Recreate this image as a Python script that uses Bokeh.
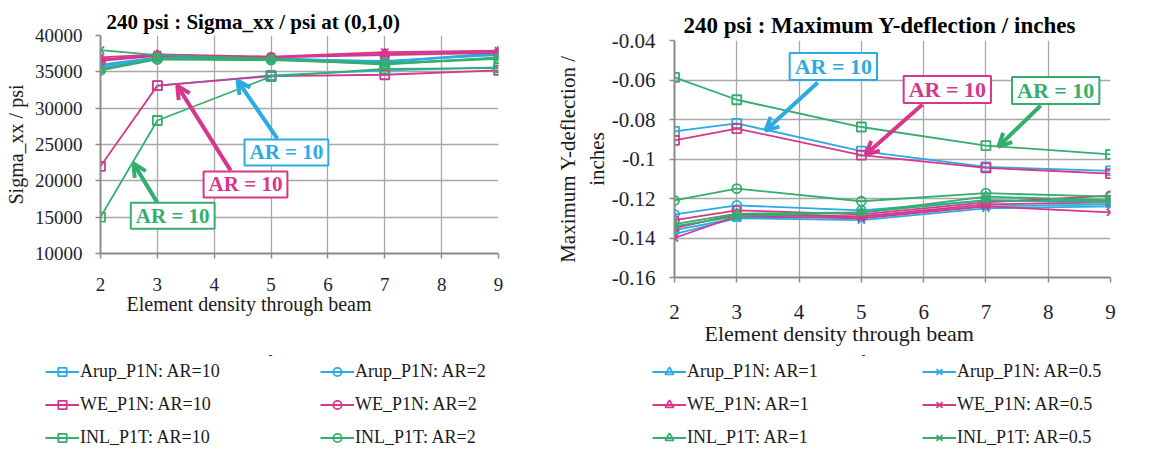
import math
from bokeh.plotting import figure
from bokeh.models import (Range1d, Label, Arrow, OpenHead, Legend, LegendItem,
                          FixedTicker, CustomJSTickFormatter, Title)
from bokeh.layouts import column, row
from bokeh.embed import file_html
from bokeh.resources import INLINE

NaN = float("nan")

# ---------------- data ----------------
density = [2, 3, 5, 7, 9]
x_ticks = [2, 3, 4, 5, 6, 7, 8, 9]
sig_ticks = [10000, 15000, 20000, 25000, 30000, 35000, 40000]
def_ticks = [-0.16, -0.14, -0.12, -0.10, -0.08, -0.06, -0.04]

# Sigma_xx / psi at (0,1,0)
sig_arup_10 = [NaN, 33100, 34500, 35200, 35600]
sig_arup_2 = [35500, 36800, 36700, 36500, 37300]
sig_arup_1 = [35800, 36900, 36800, 36300, 37500]
sig_arup_05 = [36000, 37000, 36900, 36400, 37600]
sig_we_10 = [22000, 33100, 34400, 34600, 35200]
sig_we_2 = [36500, 37200, 37000, 37300, 37600]
sig_we_1 = [36700, 37300, 37000, 37500, 37800]
sig_we_05 = [37000, 37400, 37100, 37700, 37900]
sig_inl_10 = [15000, 28300, 34350, 35400, 35500]
sig_inl_2 = [35200, 36700, 36600, 36100, 36800]
sig_inl_1 = [35300, 36800, 36700, 36200, 36900]
sig_inl_05 = [38000, 37300, 36800, 36000, 37000]

# Maximum Y-deflection / inches
def_arup_10 = [-0.086, -0.082, -0.096, -0.104, -0.106]
def_arup_2 = [-0.128, -0.1235, -0.126, -0.121, -0.121]
def_arup_1 = [-0.136, -0.130, -0.129, -0.124, -0.123]
def_arup_05 = [-0.138, -0.130, -0.131, -0.125, -0.124]
def_we_10 = [-0.0906, -0.0846, -0.098, -0.1045, -0.1074]
def_we_2 = [-0.131, -0.126, -0.128, -0.122, -0.1185]
def_we_1 = [-0.135, -0.128, -0.129, -0.123, -0.122]
def_we_05 = [-0.140, -0.129, -0.130, -0.124, -0.127]
def_inl_10 = [-0.0587, -0.070, -0.0838, -0.0932, -0.0977]
def_inl_2 = [-0.121, -0.115, -0.1214, -0.1173, -0.119]
def_inl_1 = [-0.133, -0.1277, -0.127, -0.119, -0.121]
def_inl_05 = [-0.134, -0.129, -0.127, -0.121, -0.122]

models = ["Arup_P1N", "WE_P1N", "INL_P1T"]
aspect_ratios = ["10", "2", "1", "0.5"]

sigma = {
    ("Arup_P1N", "10"): sig_arup_10, ("Arup_P1N", "2"): sig_arup_2,
    ("Arup_P1N", "1"): sig_arup_1, ("Arup_P1N", "0.5"): sig_arup_05,
    ("WE_P1N", "10"): sig_we_10, ("WE_P1N", "2"): sig_we_2,
    ("WE_P1N", "1"): sig_we_1, ("WE_P1N", "0.5"): sig_we_05,
    ("INL_P1T", "10"): sig_inl_10, ("INL_P1T", "2"): sig_inl_2,
    ("INL_P1T", "1"): sig_inl_1, ("INL_P1T", "0.5"): sig_inl_05,
}
deflection = {
    ("Arup_P1N", "10"): def_arup_10, ("Arup_P1N", "2"): def_arup_2,
    ("Arup_P1N", "1"): def_arup_1, ("Arup_P1N", "0.5"): def_arup_05,
    ("WE_P1N", "10"): def_we_10, ("WE_P1N", "2"): def_we_2,
    ("WE_P1N", "1"): def_we_1, ("WE_P1N", "0.5"): def_we_05,
    ("INL_P1T", "10"): def_inl_10, ("INL_P1T", "2"): def_inl_2,
    ("INL_P1T", "1"): def_inl_1, ("INL_P1T", "0.5"): def_inl_05,
}

# ---------------- styles ----------------
COLORS = {"Arup_P1N": "#2AABE2", "WE_P1N": "#D6378A", "INL_P1T": "#34AE6C"}
MARKERS = {"10": "square", "2": "circle", "1": "triangle", "0.5": "x"}
MSIZE = {"10": 9, "2": 9, "1": 9, "0.5": 10}
FONT = "'Liberation Serif', 'Times New Roman', 'DejaVu Serif', serif"
TICK_COLOR = "#1E1E30"
GRID_COLOR = "#A8A8A8"
AXIS_COLOR = "#8A8A8A"


def style(p, tick_size, label_size, title_size, title_offset, title_standoff,
          xstand, ystand):
    p.outline_line_color = None
    p.background_fill_color = "white"
    p.border_fill_color = "white"
    p.title.text_font = FONT
    p.title.text_font_size = title_size
    p.title.text_font_style = "bold"
    p.title.text_color = "black"
    p.title.align = "left"
    p.title.offset = title_offset
    p.title.standoff = title_standoff
    for ax in p.axis:
        ax.major_label_text_font = FONT
        ax.major_label_text_font_size = tick_size
        ax.major_label_text_color = TICK_COLOR
        ax.axis_label_text_font = FONT
        ax.axis_label_text_font_size = label_size
        ax.axis_label_text_font_style = "normal"
        ax.axis_label_text_color = "#1a1a1a"
        ax.axis_line_color = AXIS_COLOR
        ax.axis_line_width = 2
        ax.major_tick_line_color = AXIS_COLOR
        ax.major_tick_line_width = 1.5
        ax.major_tick_out = 5
        ax.major_tick_in = 0
        ax.minor_tick_line_color = None
    p.xaxis.major_label_standoff = xstand
    p.yaxis.major_label_standoff = ystand
    p.grid.grid_line_color = GRID_COLOR
    p.grid.grid_line_width = 1.3
    p.xaxis.ticker = FixedTicker(ticks=x_ticks)
    p.xgrid.ticker = FixedTicker(ticks=x_ticks)


def draw_series(p, data):
    for m in models:
        for ar in aspect_ratios:
            ys = data[(m, ar)]
            c = COLORS[m]
            p.line(density, ys, line_color=c, line_width=1.8)
            p.scatter(density, ys, marker=MARKERS[ar], size=MSIZE[ar],
                      line_color=c, fill_color=None, line_width=1.8)


def ar_box(p, x, y, color, size):
    p.add_layout(Label(x=x, y=y, text="AR = 10", text_font=FONT,
                       text_font_style="bold", text_font_size=size,
                       text_color=color, text_align="center",
                       text_baseline="middle", background_fill_color="white",
                       border_line_color=color, border_line_width=2,
                       padding=dict(x=5, y=1)))


def ar_arrow(p, xs, ys, xe, ye, color):
    p.add_layout(Arrow(x_start=xs, y_start=ys, x_end=xe, y_end=ye,
                       line_color=color, line_width=4,
                       end=OpenHead(size=13, line_color=color, line_width=4)))


def x_title(p, size, offset, standoff):
    p.add_layout(Title(text="Element density through beam", align="left",
                       offset=offset, text_font=FONT, text_font_size=size,
                       text_font_style="normal", text_color="#1a1a1a",
                       standoff=standoff), "below")


# ---------------- left chart ----------------
p1 = figure(width=540, height=340, x_range=Range1d(2, 9),
            y_range=Range1d(10000, 40000), output_backend="svg",
            toolbar_location=None, title="240 psi : Sigma_xx / psi at (0,1,0)",
            min_border_left=100, min_border_right=42, min_border_top=35,
            min_border_bottom=87, frame_align=False)
style(p1, "19px", "20px", "21px", 6, 4, 19, 13)
p1.yaxis.ticker = FixedTicker(ticks=sig_ticks)
p1.ygrid.ticker = FixedTicker(ticks=sig_ticks)
p1.yaxis.axis_label = "Sigma_xx / psi"
p1.yaxis.axis_label_standoff = 5
draw_series(p1, sigma)
x_title(p1, "20px", 26, -6)

ar_arrow(p1, 5.11, 25800, 4.41, 33800, COLORS["Arup_P1N"])
ar_arrow(p1, 4.29, 21400, 3.35, 33100, COLORS["WE_P1N"])
ar_arrow(p1, 3.00, 17000, 2.58, 22400, COLORS["INL_P1T"])
ar_box(p1, 5.27, 23900, COLORS["Arup_P1N"], "21px")
ar_box(p1, 4.55, 19500, COLORS["WE_P1N"], "21px")
ar_box(p1, 3.27, 15200, COLORS["INL_P1T"], "21px")

# ---------------- right chart ----------------
p2 = figure(width=629, height=347, x_range=Range1d(2, 9),
            y_range=Range1d(-0.16, -0.04), output_backend="svg",
            toolbar_location=None, title="240 psi : Maximum Y-deflection / inches",
            min_border_left=134, min_border_right=59, min_border_top=40,
            min_border_bottom=70, frame_align=False)
style(p2, "21px", "21px", "23px", 9, 5, 22, 14)
p2.yaxis.ticker = FixedTicker(ticks=def_ticks)
p2.ygrid.ticker = FixedTicker(ticks=def_ticks)
p2.yaxis.formatter = CustomJSTickFormatter(code="return String(Number(tick.toFixed(2)));")
p2.yaxis.axis_label = "Maximum Y-deflection /\ninches"
p2.yaxis.axis_label_standoff = 0
draw_series(p2, deflection)
x_title(p2, "22px", 30, -5)

ar_arrow(p2, 4.30, -0.0613, 3.46, -0.0856, COLORS["Arup_P1N"])
ar_arrow(p2, 5.98, -0.0724, 5.07, -0.0977, COLORS["WE_P1N"])
ar_arrow(p2, 7.88, -0.0729, 7.20, -0.0937, COLORS["INL_P1T"])
ar_box(p2, 4.55, -0.0532, COLORS["Arup_P1N"], "22px")
ar_box(p2, 6.38, -0.0648, COLORS["WE_P1N"], "22px")
ar_box(p2, 8.12, -0.0653, COLORS["INL_P1T"], "22px")

# ---------------- legend ----------------
p3 = figure(width=1169, height=103, x_range=Range1d(0, 1169),
            y_range=Range1d(0, 103), output_backend="svg",
            toolbar_location=None, x_axis_location=None, y_axis_location=None,
            min_border=0, frame_align=False)
p3.outline_line_color = None
p3.grid.visible = False

col_x = [45, 320, 652, 922]
for ci, ar in enumerate(aspect_ratios):
    items = []
    for m in models:
        c = COLORS[m]
        rl = p3.line([NaN], [NaN], line_color=c, line_width=1.8)
        rs = p3.scatter([NaN], [NaN], marker=MARKERS[ar], size=MSIZE[ar],
                        line_color=c, fill_color=None, line_width=1.8)
        items.append(LegendItem(label=f"{m}: AR={ar}", renderers=[rl, rs]))
    lg = Legend(items=items, location=(col_x[ci], 2), orientation="vertical",
                glyph_width=34, glyph_height=21, label_height=21, spacing=12,
                padding=0, margin=0, border_line_color=None,
                background_fill_alpha=0, label_text_font=FONT,
                label_text_font_size="18px", label_text_color="#1a1a1a",
                label_standoff=1)
    p3.add_layout(lg)

for dx in (270, 863):
    p3.add_layout(Label(x=dx, y=96, text="-", text_font=FONT,
                        text_font_size="12px", text_color="#333333",
                        text_align="center", text_baseline="middle"))

layout = column(row(p1, p2), p3)
open("out.html", "w").write(file_html(layout, INLINE))
